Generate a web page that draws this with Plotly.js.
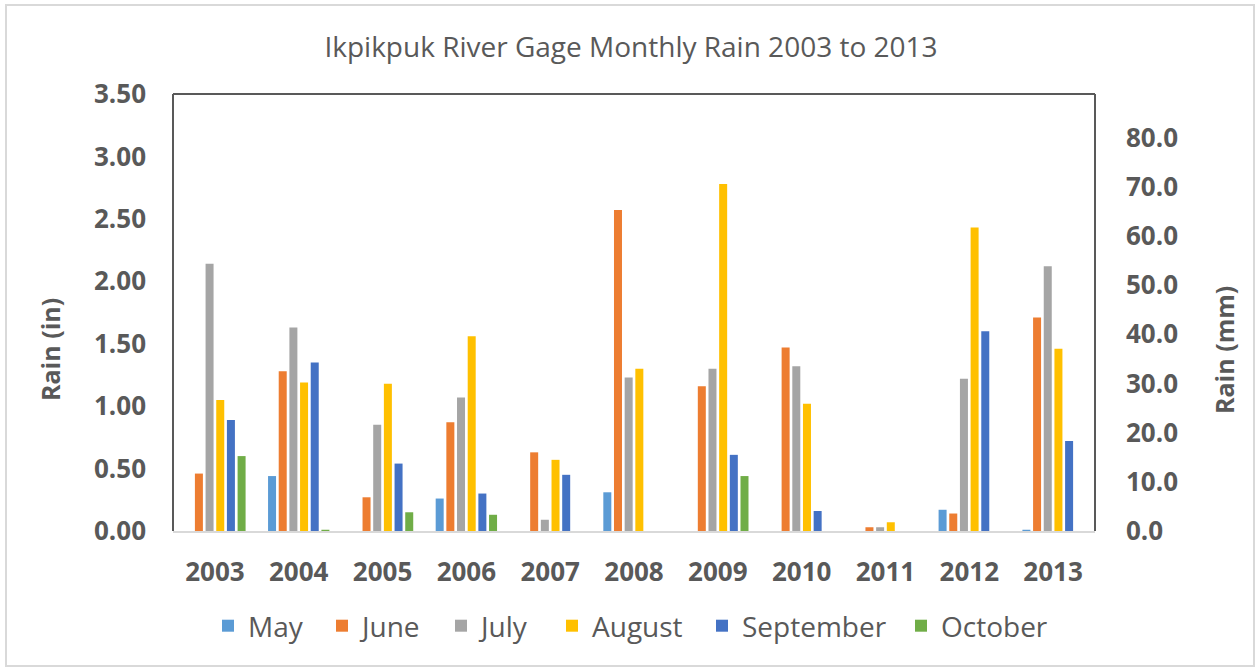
<!DOCTYPE html>
<html>
<head>
<meta charset="utf-8">
<script src="https://cdn.plot.ly/plotly-3.0.1.min.js"></script>
<style>
  html, body { margin: 0; padding: 0; background: #ffffff; }
  #chart { width: 1255px; height: 667px; }
</style>
</head>
<body>
<div id="chart"></div>
<script>
// ---- Data (Rain, inches) ----
const years = ['2003','2004','2005','2006','2007','2008','2009','2010','2011','2012','2013'];
const seriesNames = ['May','June','July','August','September','October'];
const may       = [null, 0.44, null, 0.26, null, 0.31, null, null, null, 0.17, 0.01];
const june      = [0.46, 1.28, 0.27, 0.87, 0.63, 2.57, 1.16, 1.47, 0.03, 0.14, 1.71];
const july      = [2.14, 1.63, 0.85, 1.07, 0.09, 1.23, 1.30, 1.32, 0.03, 1.22, 2.12];
const august    = [1.05, 1.19, 1.18, 1.56, 0.57, 1.30, 2.78, 1.02, 0.07, 2.43, 1.46];
const september = [0.89, 1.35, 0.54, 0.30, 0.45, null, 0.61, 0.16, null, 1.60, 0.72];
const october   = [0.60, 0.01, 0.15, 0.13, null, null, 0.44, null, null, null, null];
const seriesValues = [may, june, july, august, september, october];
const colors = ['#5B9BD5','#ED7D31','#A5A5A5','#FFC000','#4472C4','#70AD47'];

const chartTitle = 'Ikpikpuk River Gage Monthly Rain 2003 to 2013';
const leftTitle = 'Rain (in)';
const rightTitle = 'Rain (mm)';
const inMax = 3.5;
const mmPerIn = 25.4;

// legend symbol centres (px) as laid out in the reference
const legendCentersPx = [228, 342, 461, 572, 722, 921];

const legendIds = seriesNames.map((_, i) => (i === 0 ? 'legend' : 'legend' + (i + 1)));

const traces = seriesNames.map((name, i) => ({
  type: 'bar',
  name: name,
  x: years,
  y: seriesValues[i],
  marker: { color: colors[i] },
  legend: legendIds[i],
  hoverinfo: 'x+y+name'
}));

// invisible companion trace (same July data expressed in mm) so the right-hand mm axis is drawn
traces.push({
  type: 'scatter',
  mode: 'markers',
  x: years,
  y: july.map(v => (v == null ? null : v * mmPerIn)),
  yaxis: 'y2',
  marker: { opacity: 0, size: 1 },
  showlegend: false,
  hoverinfo: 'skip'
});

// plot area in pixels
const W = 1255, H = 667;
const L = 173, R = 1095, T = 94, B = 531;
const pw = R - L, ph = B - T;
const px = v => (v - L) / pw;
const py = v => (B - v) / ph;

const grey = '#595959';
const fontFam = '"Open Sans", "DejaVu Sans", sans-serif';

const layout = {
  width: W, height: H,
  margin: { l: L, r: W - R, t: T, b: H - B, pad: 0 },
  paper_bgcolor: '#ffffff',
  plot_bgcolor: '#ffffff',
  font: { family: fontFam, color: grey },
  title: {
    text: chartTitle,
    font: { family: fontFam, size: 28, color: grey },
    xref: 'container', x: 631 / W, xanchor: 'center',
    yref: 'container', y: 1 - 47 / H, yanchor: 'middle'
  },
  barmode: 'group',
  bargap: 0.236,
  bargroupgap: 0.25,
  showlegend: true,
  xaxis: {
    type: 'category',
    range: [-0.5, years.length - 0.5],
    showgrid: false,
    zeroline: false,
    showline: true,
    linecolor: '#d9d9d9',
    linewidth: 1.5,
    ticks: '',
    ticklabelstandoff: 17,
    tickfont: { family: fontFam, size: 26, weight: 'bold', color: grey },
    fixedrange: true
  },
  yaxis: {
    range: [0, inMax],
    dtick: 0.5,
    tick0: 0,
    tickformat: '.2f',
    showgrid: false,
    zeroline: false,
    showline: false,
    ticks: '',
    ticklabelstandoff: 26,
    tickfont: { family: fontFam, size: 26, weight: 'bold', color: grey },
    fixedrange: true
  },
  yaxis2: {
    overlaying: 'y',
    side: 'right',
    range: [0, inMax * mmPerIn],
    dtick: 10,
    tick0: 0,
    tickformat: '.1f',
    showgrid: false,
    zeroline: false,
    showline: false,
    ticks: '',
    ticklabelstandoff: 30,
    tickfont: { family: fontFam, size: 26, weight: 'bold', color: grey },
    fixedrange: true
  },
  annotations: [
    {
      text: leftTitle, textangle: -90,
      xref: 'paper', yref: 'paper', x: px(50), y: py(350),
      xanchor: 'center', yanchor: 'middle', showarrow: false,
      font: { family: fontFam, size: 25, weight: 'bold', color: grey }
    },
    {
      text: rightTitle, textangle: -90,
      xref: 'paper', yref: 'paper', x: px(1224), y: py(350),
      xanchor: 'center', yanchor: 'middle', showarrow: false,
      font: { family: fontFam, size: 25, weight: 'bold', color: grey }
    }
  ],
  shapes: [
    // outer chart frame
    { type: 'rect', xref: 'paper', yref: 'paper',
      x0: px(6), x1: px(1254), y0: py(666), y1: py(5),
      line: { color: '#d9d9d9', width: 2 }, fillcolor: 'rgba(0,0,0,0)', layer: 'below' },
    // plot area border: left, top, right
    { type: 'line', xref: 'paper', yref: 'paper', x0: 0, x1: 0, y0: 0, y1: 1,
      line: { color: '#595959', width: 2 } },
    { type: 'line', xref: 'paper', yref: 'paper', x0: 0, x1: 1, y0: 1, y1: 1,
      line: { color: '#595959', width: 2 } },
    { type: 'line', xref: 'paper', yref: 'paper', x0: 1, x1: 1, y0: 0, y1: 1,
      line: { color: '#595959', width: 2 } }
  ]
};

// one single-entry legend per series, placed like the reference legend row
legendIds.forEach((id, i) => {
  layout[id] = {
    orientation: 'h',
    xref: 'paper', x: px(legendCentersPx[i] - 20), xanchor: 'left',
    y: py(626), yanchor: 'middle',
    font: { family: fontFam, size: 28, color: grey },
    bgcolor: 'rgba(0,0,0,0)',
    borderwidth: 0
  };
});

Plotly.newPlot('chart', traces, layout, { staticPlot: true, displayModeBar: false });
</script>
</body>
</html>
